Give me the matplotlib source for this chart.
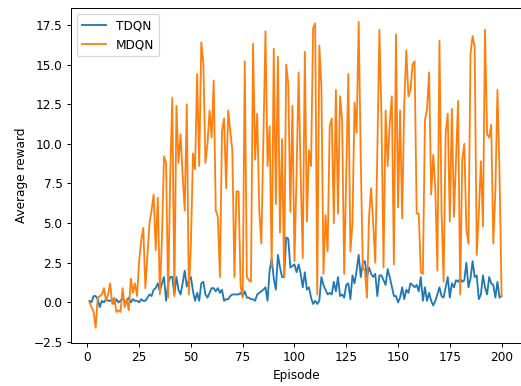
import matplotlib
matplotlib.use("Agg")
import matplotlib.pyplot as plt
import numpy as np

# episode numbers and average reward per episode
episodes = list(range(1, 201))

tdqn = [
    0.1, 0.0, 0.4, 0.4, 0.2, -0.3, 0.1, 0.0, 0.2, 0.1,
    0.1, 0.2, -0.1, 0.2, 0.0, 0.1, 0.3, 0.0, 0.1, 0.3,
    0.0, 0.2, 0.1, 0.1, 0.0, 0.2, 0.1, 0.1, 0.3, 0.5,
    0.4, 0.8, 0.9, 1.2, 0.7, 1.2, 1.6, 0.1, 1.2, 1.6,
    1.6, 0.5, 1.6, 0.8, 0.5, 1.2, 2.0, 1.0, 1.4, 1.6,
    0.7, 0.1, 0.6, 0.1, 1.2, 1.3, 0.5, 0.3, 0.6, 0.9,
    0.9, 0.7, 0.9, 0.6, 0.8, 0.1, 0.2, 0.2, 0.4, 0.5,
    0.5, 0.5, 0.5, 0.6, 0.4, 0.7, 0.3, 0.3, 0.2, 0.2,
    0.1, 0.5, 0.6, 0.7, 0.8, 0.95, 0.1, 2.0, 2.8, 1.5,
    0.8, 3.0, 2.2, 1.6, 1.6, 4.1, 4.0, 2.2, 2.3, 2.4,
    1.9, 2.4, 1.8, 0.95, 1.9, 0.8, 0.95, 0.3, -0.1, 0.1,
    -0.1, 0.1, 1.6, 1.1, 0.8, 0.5, 0.6, 0.5, 1.3, 0.7,
    1.6, 0.4, 0.5, 0.3, 1.1, 1.2, 0.2, 1.7, 1.2, 2.0,
    3.0, 1.6, 2.5, 2.6, 1.6, 2.2, 1.8, 1.6, 1.8, 0.4,
    1.7, 1.7, 1.4, 1.1, 2.1, 1.6, 1.0, 0.4, 0.4, 0.0,
    0.3, 0.95, 0.2, 0.8, 0.6, 1.2, 1.1, 0.95, 1.1, 0.7,
    1.6, 0.1, 0.95, 0.1, 0.6, 0.1, -0.2, 0.1, 0.5, 0.95,
    0.4, 0.3, 0.95, 1.6, 0.3, 1.2, 0.95, 1.4, 1.3, 1.5,
    1.3, 1.4, 2.5, 0.95, 1.5, 2.6, 1.6, 1.7, 0.2, 0.5,
    1.7, 0.95, 0.5, 1.6, 1.2, 1.1, 0.3, 1.3, 0.3, 0.4,
]

mdqn = [
    0.0, -0.3, -0.6, -1.6, 0.3, 0.4, 0.5, 0.9, 0.1, 0.5,
    1.2, -0.1, 0.3, -0.6, -0.5, -0.6, 0.9, -0.3, 0.2, -0.5,
    1.5, 0.6, 1.2, 0.4, 2.6, 3.9, 4.7, 0.9, 3.0, 5.0,
    5.8, 6.8, 3.3, 6.6, 0.5, 4.0, 9.2, 8.8, 0.3, 8.0,
    12.9, 0.4, 12.4, 8.8, 10.6, 8.0, 5.8, 12.5, 0.5, 3.7,
    9.4, 8.4, 14.4, 8.6, 16.4, 15.1, 8.8, 10.0, 12.1, 10.4,
    14.0, 5.8, 5.4, 1.6, 10.8, 11.6, 7.2, 12.1, 10.8, 9.6,
    1.6, 7.0, 7.0, 1.0, 0.3, 15.2, 1.6, 1.4, 1.3, 16.3,
    9.0, 11.9, 5.8, 3.7, 10.5, 17.1, 8.6, 11.1, 2.2, 16.0,
    6.2, 15.5, 4.4, 10.3, 1.6, 15.0, 13.8, 5.7, 12.4, 2.6,
    8.0, 14.5, 8.0, 2.8, 15.8, 5.1, 9.6, 8.6, 17.3, 17.6,
    0.5, 16.2, 13.6, 1.8, 5.5, 3.2, 11.1, 11.6, 5.0, 13.4,
    5.6, 13.0, 11.5, 1.8, 8.0, 14.4, 3.2, 5.0, 12.6, 10.7,
    17.7, 9.0, 2.2, 2.0, 0.3, 5.4, 7.2, 5.0, 2.5, 9.5,
    17.2, 11.7, 2.2, 12.1, 8.6, 11.3, 13.0, 2.4, 16.9, 6.0,
    12.1, 5.3, 12.5, 15.9, 13.0, 13.4, 15.0, 15.2, 5.6, 5.6,
    1.9, 1.8, 11.5, 12.2, 14.5, 6.8, 9.3, 7.2, 2.0, 16.5,
    5.8, 1.3, 10.7, 11.9, 5.1, 12.2, 5.4, 9.1, 12.7, 0.5,
    9.0, 10.0, 4.6, 3.7, 15.7, 16.8, 16.1, 3.0, 5.6, 8.9,
    4.8, 17.2, 10.6, 10.4, 11.2, 3.7, 7.0, 13.4, 8.2, 0.4,
]

dpi = 87
fig = plt.figure(figsize=(521 / dpi, 386 / dpi), dpi=dpi)
ax = fig.add_axes([71 / 521, 43.5 / 386, 451.3 / 521, 334.2 / 386])

ax.plot(episodes, tdqn, label="TDQN")
ax.plot(episodes, mdqn, label="MDQN")

ax.set_xlim(-7.9, 210.0)
ax.set_ylim(-2.53, 18.55)
ax.set_yticks(np.arange(-2.5, 17.6, 2.5))
ax.set_xticks(range(0, 201, 25))
ax.set_xlabel("Episode")
ax.set_ylabel("Average reward")
ax.legend(loc="upper left")

fig.savefig("out.png", dpi=dpi)
